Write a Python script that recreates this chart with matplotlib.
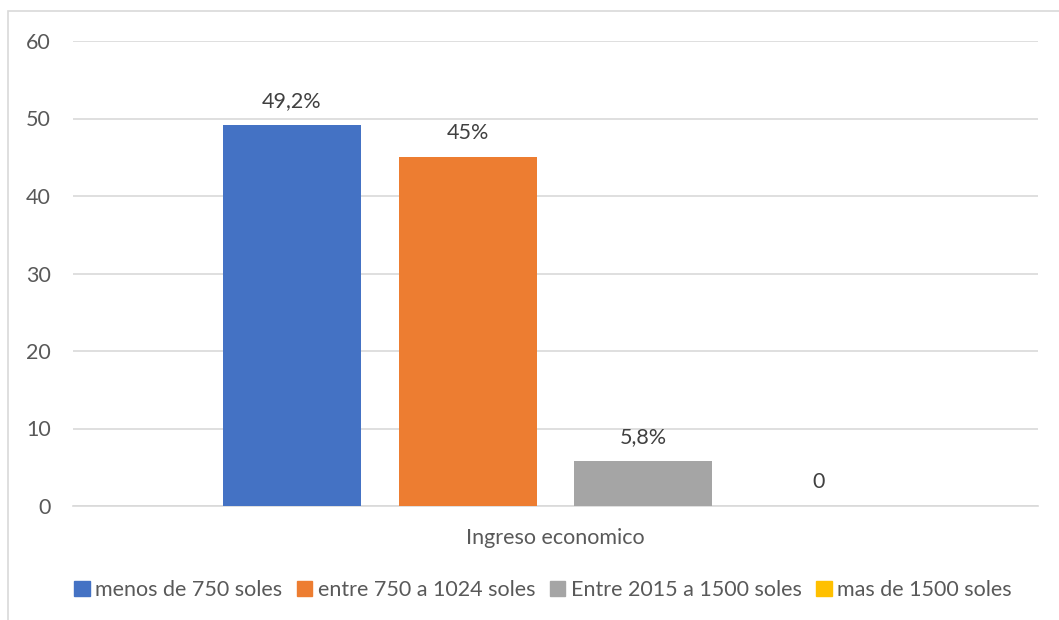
import matplotlib.pyplot as plt
from matplotlib.patches import Rectangle, Patch

series = ['menos de 750 soles', 'entre 750 a 1024 soles', 'Entre 2015 a 1500 soles', 'mas de 1500 soles']
values = [49.2, 45, 5.8, 0]
value_labels = ['49,2%', '45%', '5,8%', '0']
colors = ['#4472C4', '#ED7D31', '#A5A5A5', '#FFC000']
category = 'Ingreso economico'

plt.rcParams['font.family'] = ['Lato', 'DejaVu Sans']
text_color = '#595959'
fs = 15.5

fig = plt.figure(figsize=(10.59, 6.2), dpi=100)
ax = fig.add_axes([73 / 1059, 1 - 506 / 620, (1038 - 73) / 1059, (506 - 41) / 620])

# chart border (only top and left visible in the crop)
fig.patches.append(Rectangle((8 / 1059, -0.1), 1.2, 1 - 11 / 620 + 0.1, transform=fig.transFigure,
                             fill=False, edgecolor='#D9D9D9', linewidth=1.2))

step = 0.182
width = 0.143
offsets = [(i - 1.5) * step for i in range(len(series))]
for off, v, c, lab, s in zip(offsets, values, colors, value_labels, series):
    ax.bar(off, v, width=width, color=c, label=s, zorder=3)
    ax.text(off, v + 1.8, lab, ha='center', va='bottom', fontsize=fs, color='#404040')

ax.set_xlim(-0.5, 0.5)
ax.set_ylim(0, 60)
ax.set_yticks(range(0, 61, 10))
ax.yaxis.grid(True, color='#D9D9D9', linewidth=1.2, zorder=0)
ax.set_axisbelow(True)
for sp in ['top', 'right', 'left']:
    ax.spines[sp].set_visible(False)
ax.spines['bottom'].set_color('#D9D9D9')
ax.spines['bottom'].set_linewidth(1.2)
ax.tick_params(axis='y', length=0, labelsize=fs, labelcolor=text_color, pad=16)
ax.set_xticks([0])
ax.set_xticklabels([category])
ax.tick_params(axis='x', length=0, labelsize=fs, labelcolor=text_color, pad=16)

handles = [Patch(color=c) for c in colors]
fig.legend(handles, series, loc='center', bbox_to_anchor=(543 / 1059, 1 - 590 / 620), ncol=4,
           frameon=False, fontsize=fs, labelcolor=text_color, handlelength=0.7, handleheight=0.7,
           handletextpad=0.25, columnspacing=0.7)

fig.savefig('out.png', dpi=100)
